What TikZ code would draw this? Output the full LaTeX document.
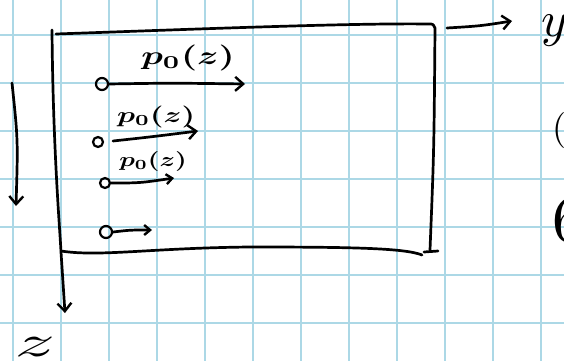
\documentclass[tikz,border=0pt]{standalone}
\usetikzlibrary{arrows.meta}
\definecolor{gridblue}{RGB}{172,216,230}
\begin{document}
\begin{tikzpicture}[x=1pt,y=-1pt,
  gridline/.style={draw=gridblue,line width=2.2pt},
  ink/.style={draw=black,line width=2.7pt,line cap=round,line join=round},
  barb/.style={-{Straight Barb[length=8pt,width=14pt,line width=2.4pt]}},
  smallbarb/.style={-{Straight Barb[length=6pt,width=10pt,line width=2.4pt]}},
  dot/.style={circle,draw=black,line width=2.2pt,inner sep=0pt,minimum width=9pt,minimum height=10pt},
  lab/.style={inner sep=0pt,anchor=center},
  raylab/.style={lab,font=\boldmath}]
\useasboundingbox (0,0) rectangle (564,361);
\fill[white] (0,0) rectangle (564,361);

% squared paper
\foreach \gx in {13,61,...,541} \draw[gridline] (\gx,0) -- (\gx,361);
\foreach \gy in {35,83,...,324} \draw[gridline] (0,\gy) -- (564,\gy);

% frame: top edge and right edge
\draw[ink] (56,34) .. controls (200,29) and (350,23) .. (429,24)
  .. controls (433,24) .. (435,28) .. controls (434,150) .. (430,250);
\draw[ink] (424,252) -- (438,251);
% bottom edge
\draw[ink] (61,251) .. controls (100,257) and (150,248) .. (250,247)
  .. controls (350,247) and (405,248) .. (422,255);

% left edge continuing as the z axis
\coordinate (zs) at (52,30);
\coordinate (zt) at (65,313);
\draw[ink,barb] (zs) .. controls (53,150) and (60,230) .. (61,252) -- (zt);

% y axis
\coordinate (ys) at (447,28);
\coordinate (yt) at (512,21);
\draw[ink,barb] (ys) .. controls (480,26) .. (yt);

% depth arrow at the far left
\coordinate (ds) at (12,83);
\coordinate (dt) at (16,206);
\draw[ink,barb] (ds) .. controls (18,140) .. (dt);

% sources and their rays
\node[dot,minimum width=10pt,minimum height=12pt] (s1) at (102,84) {};
\node[dot] (s2) at (98,142) {};
\node[dot] (s3) at (105,183) {};
\node[dot,minimum width=11pt,minimum height=12pt] (s4) at (106,232) {};

\coordinate (e1) at (245,84);
\coordinate (e2) at (198,131);
\coordinate (e3) at (174,178);
\coordinate (e4) at (152,230);

\draw[ink,barb] (s1.east) .. controls (170,83) .. (e1);
\draw[ink,barb] (113,141) .. controls (150,137) .. (e2);
\draw[ink,smallbarb] (s3.east) .. controls (140,183) .. (e3);
\draw[ink,smallbarb] (s4.east) .. controls (130,230) .. (e4);

% labels (10pt type, enlarged by scaling)
\node[raylab,xscale=3.6,yscale=2.6] (l1) at (188,58) {$p_0(z)$};
\node[raylab,xscale=3.0,yscale=2.2] (l2) at (156,117) {$p_0(z)$};
\node[raylab,xscale=2.6,yscale=2.0] (l3) at (153,161) {$p_0(z)$};

\node[lab,anchor=north west,scale=5] (ly) at (540,14) {$y$};
\node[lab,anchor=north west,scale=3.6] (lp) at (552,112) {(};
\node[lab,anchor=north west,scale=6.6] (lb) at (551,196) {6};
\node[lab,anchor=north west,xscale=8,yscale=4.4] (lz) at (13,337) {$z$};
\end{tikzpicture}
\end{document}
